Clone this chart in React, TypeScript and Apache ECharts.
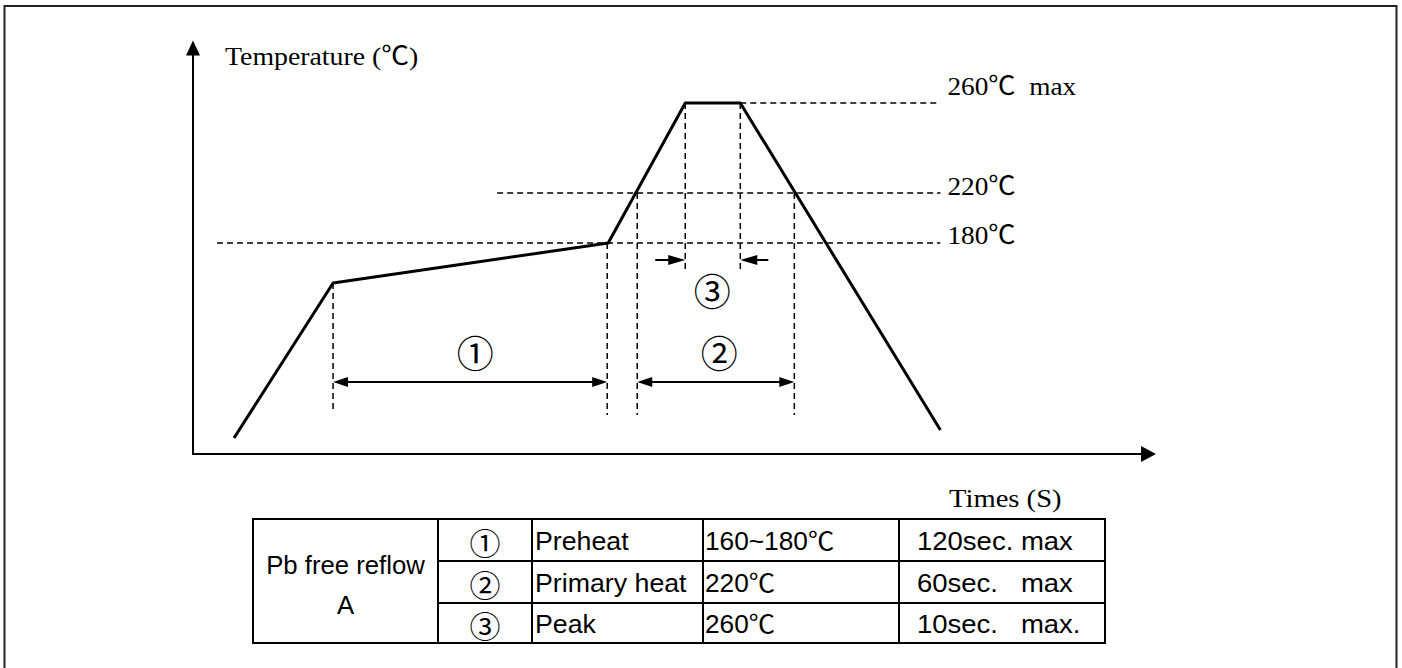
import React, { useEffect, useRef } from 'react';
import * as echarts from 'echarts';

// ---- schematic axis extents (diagram units) ----
const X_MAX = 955;
const Y_MAX = 406;

// ---- reflow profile (schematic time / temperature units) ----
const profileTime = [41, 140, 415, 492, 547, 747];
const profileTemp = [16, 171, 211, 351, 351, 24];

// ---- temperature reference levels ----
const levelNames = ['260℃  max', '220℃', '180℃'];
const levelValues = [351, 261, 211];
const levelStarts = [547, 304, 24];
const levelEnd = 747;

// ---- vertical guide lines ----
const dropTimes = [140, 414, 444, 492, 547, 601];
const dropTops = [171, 211, 261, 351, 351, 261];
const dropBottoms = [44, 39, 39, 184, 184, 39];

// ---- dimension arrows: [from, to, level, headAtStart] ----
const arrowFrom = [140, 444, 462, 575];
const arrowTo = [414, 601, 492, 547];
const arrowLevel = [72, 72, 194, 194];
const arrowStartHead = [1, 1, 0, 0];

// ---- zone marks ----
const zoneMarks = ['①', '②', '③'];
const zoneMarkTime = [282, 526, 519];
const zoneMarkTemp = [102, 102, 164];

// ---- table ----
const tableGroup = ['Pb free reflow', 'A'];
const stepMarks = ['①', '②', '③'];
const stepNames = ['Preheat', 'Primary heat', 'Peak'];
const stepTemps = ['160~180℃', '220℃', '260℃'];
const stepTimes = ['120sec. max', '60sec.   max', '10sec.   max.'];

const axisTitleY = 'Temperature (℃)';
const axisTitleX = 'Times (S)';

const SERIF = "'Liberation Serif', 'Times New Roman', 'Noto Sans CJK JP', serif";
const SANS = "'Liberation Sans', Arial, 'Noto Sans CJK JP', sans-serif";
const CJK = "'Noto Sans CJK JP', 'DejaVu Sans', sans-serif";

function textEl(text: string, x: number, y: number, family: string, size: number, align = 'left', sx = 1) {
  return {
    type: 'text',
    x,
    y,
    scaleX: sx,
    silent: true,
    style: {
      text,
      fill: '#000',
      fontSize: size,
      fontFamily: family,
      align,
      verticalAlign: 'middle',
      textAlign: align,
      textVerticalAlign: 'middle',
    },
  };
}

function buildOption() {
  const GRID_LEFT = 193;
  const GRID_TOP = 48;
  const GRID_RIGHT = 253.5;
  const GRID_BOTTOM = 214;

  const curveData = profileTime.map((t, i) => [t, profileTemp[i]]);

  const guideData: number[][] = [];
  levelValues.forEach((v, i) => guideData.push([levelStarts[i], v, levelEnd, v]));
  dropTimes.forEach((t, i) => guideData.push([t, dropTops[i], t, dropBottoms[i]]));

  const arrowData = arrowFrom.map((f, i) => [f, arrowTo[i], arrowLevel[i], arrowStartHead[i]]);
  const levelLabelData = levelValues.map((v, i) => [levelEnd, v, i]);
  const markData = zoneMarks.map((_, i) => [zoneMarkTime[i], zoneMarkTemp[i], i]);

  const labelLift = [17, 7, 8];

  // table layout
  const TX = [253, 438, 532, 703, 899, 1105];
  const TY = [519, 561, 603, 643];
  const table: any[] = [];
  table.push({
    type: 'rect',
    shape: { x: TX[0], y: TY[0], width: TX[5] - TX[0], height: TY[3] - TY[0] },
    style: { fill: 'none', stroke: '#000', lineWidth: 2 },
    silent: true,
  });
  for (let c = 1; c < 5; c++) {
    table.push({
      type: 'line',
      shape: { x1: TX[c], y1: TY[0], x2: TX[c], y2: TY[3] },
      style: { stroke: '#000', lineWidth: 2 },
      silent: true,
    });
  }
  for (let r = 1; r < 3; r++) {
    table.push({
      type: 'line',
      shape: { x1: TX[1], y1: TY[r], x2: TX[5], y2: TY[r] },
      style: { stroke: '#000', lineWidth: 2 },
      silent: true,
    });
  }
  const groupCx = (TX[0] + TX[1]) / 2;
  table.push(textEl(tableGroup[0], groupCx, 565, SANS, 25, 'center', 1.03));
  table.push(textEl(tableGroup[1], groupCx, 605, SANS, 25, 'center', 1.03));
  for (let r = 0; r < 3; r++) {
    const cy = (TY[r] + TY[r + 1]) / 2 + 1;
    table.push(textEl(stepMarks[r], (TX[1] + TX[2]) / 2, cy, CJK, 31, 'center'));
    table.push(textEl(stepNames[r], TX[2] + 3, cy, SANS, 25, 'left', 1.07));
    table.push(textEl(stepTemps[r], TX[3] + 2, cy, SANS, 25, 'left', 1.05));
    table.push(textEl(stepTimes[r], TX[4] + 18, cy, SANS, 25, 'left', 1.1));
  }

  return {
    animation: false,
    backgroundColor: '#fff',
    grid: { left: GRID_LEFT, top: GRID_TOP, right: GRID_RIGHT, bottom: GRID_BOTTOM },
    xAxis: {
      type: 'value',
      min: 0,
      max: X_MAX,
      splitLine: { show: false },
      axisTick: { show: false },
      axisLabel: { show: false },
      axisLine: {
        show: true,
        onZero: false,
        symbol: ['none', 'triangle'],
        symbolSize: [16, 15],
        lineStyle: { color: '#000', width: 2 },
      },
    },
    yAxis: {
      type: 'value',
      min: 0,
      max: Y_MAX,
      splitLine: { show: false },
      axisTick: { show: false },
      axisLabel: { show: false },
      axisLine: {
        show: true,
        onZero: false,
        symbol: ['none', 'triangle'],
        symbolSize: [14, 15],
        lineStyle: { color: '#000', width: 2 },
      },
    },
    series: [
      {
        type: 'custom',
        name: 'guides',
        silent: true,
        clip: false,
        encode: { x: [0, 2], y: [1, 3] },
        data: guideData,
        renderItem: (_p: any, api: any) => {
          const a = api.coord([api.value(0), api.value(1)]);
          const b = api.coord([api.value(2), api.value(3)]);
          return {
            type: 'line',
            shape: { x1: a[0], y1: a[1], x2: b[0], y2: b[1] },
            style: { stroke: '#000', lineWidth: 1.5, lineDash: [6, 4] },
          };
        },
        z: 1,
      },
      {
        type: 'line',
        name: 'profile',
        data: curveData,
        showSymbol: false,
        symbol: 'none',
        silent: true,
        lineStyle: { color: '#000', width: 3, join: 'round' },
        z: 3,
      },
      {
        type: 'custom',
        name: 'arrows',
        silent: true,
        clip: false,
        encode: { x: [0, 1], y: 2 },
        data: arrowData,
        renderItem: (_p: any, api: any) => {
          const a = api.coord([api.value(0), api.value(2)]);
          const b = api.coord([api.value(1), api.value(2)]);
          const both = api.value(3) === 1;
          const dir = b[0] > a[0] ? 1 : -1;
          const L = both ? 15 : 17;
          const W = 5;
          const children: any[] = [];
          const x1 = both ? a[0] + dir * (L - 2) : a[0];
          const x2 = b[0] - dir * (L - 2);
          children.push({
            type: 'line',
            shape: { x1, y1: a[1], x2, y2: b[1] },
            style: { stroke: '#000', lineWidth: 2 },
          });
          children.push({
            type: 'polygon',
            shape: { points: [[b[0], b[1]], [b[0] - dir * L, b[1] - W], [b[0] - dir * L, b[1] + W]] },
            style: { fill: '#000' },
          });
          if (both) {
            children.push({
              type: 'polygon',
              shape: { points: [[a[0], a[1]], [a[0] + dir * L, a[1] - W], [a[0] + dir * L, a[1] + W]] },
              style: { fill: '#000' },
            });
          }
          return { type: 'group', children };
        },
        z: 4,
      },
      {
        type: 'custom',
        name: 'levelLabels',
        silent: true,
        clip: false,
        data: levelLabelData,
        renderItem: (_p: any, api: any) => {
          const p = api.coord([api.value(0), api.value(1)]);
          const i = api.value(2);
          return textEl(levelNames[i], p[0] + 7, p[1] - labelLift[i], SERIF, 26, 'left', 1.05);
        },
        z: 5,
      },
      {
        type: 'custom',
        name: 'zoneMarks',
        silent: true,
        clip: false,
        data: markData,
        renderItem: (_p: any, api: any) => {
          const p = api.coord([api.value(0), api.value(1)]);
          const i = api.value(2);
          return textEl(zoneMarks[i], p[0], p[1], CJK, 37, 'center');
        },
        z: 5,
      },
    ],
    graphic: [
      {
        type: 'rect',
        shape: { x: 4.5, y: 6, width: 1392, height: 700 },
        style: { fill: 'none', stroke: '#222', lineWidth: 2 },
        silent: true,
        z: -10,
      },
      textEl(axisTitleY, 225, 56, SERIF, 26, 'left', 1.07),
      textEl(axisTitleX, 949, 498, SERIF, 26, 'left', 1.1),
      ...table,
    ],
  };
}

export default function App() {
  const ref = useRef<HTMLDivElement>(null);
  useEffect(() => {
    document.body.style.margin = '0';
    const chart = echarts.init(ref.current!, null, { renderer: 'svg' });
    chart.setOption(buildOption() as any);
    return () => chart.dispose();
  }, []);
  return <div ref={ref} style={{ width: 1402, height: 668 }} />;
}
